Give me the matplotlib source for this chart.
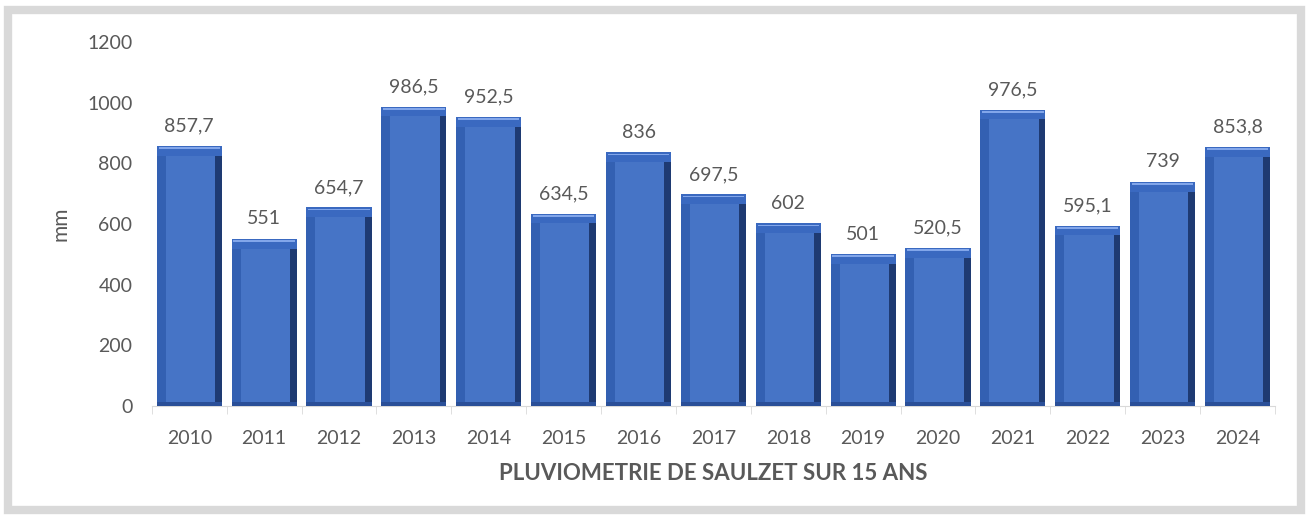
import numpy as np
import matplotlib.pyplot as plt
from matplotlib.patches import Rectangle

years = ["2010", "2011", "2012", "2013", "2014", "2015", "2016", "2017",
         "2018", "2019", "2020", "2021", "2022", "2023", "2024"]
rain = [857.7, 551, 654.7, 986.5, 952.5, 634.5, 836, 697.5,
        602, 501, 520.5, 976.5, 595.1, 739, 853.8]

plt.rcParams['font.family'] = ['Lato', 'DejaVu Sans']
grey = "#595959"

fig = plt.figure(figsize=(13.09, 5.18), dpi=100)
ax = fig.add_axes([0.116, 0.216, 0.858, 0.703])

x = np.arange(len(years))
vals = np.array(rain)
w = 0.87
lb, rb = 0.12, 0.09   # bevel widths left / right
tb, bb = 32, 14       # bevel heights top / bottom
# bevelled bar built from stacked bars
ax.bar(x, vals, width=w, color="#1e3a72", zorder=2)
ax.bar(x - w / 2, vals - 4, bottom=4, width=w - rb, align="edge", color="#3360b2", zorder=2)
ax.bar(x - w / 2, bb, width=w, align="edge", color="#2a4f98", zorder=3)
ax.bar(x, tb, bottom=vals - tb, width=w, color="#3a69c0", zorder=3)
ax.bar(x, 6, bottom=vals - 10, width=w - 0.05, color="#82a6ea", zorder=4)
ax.bar(x - w / 2 + lb, vals - tb - bb, bottom=bb, width=w - lb - rb, align="edge",
       color="#4674c6", zorder=4)

for xi, v in zip(x, vals):
    lab = ("%g" % v).replace(".", ",")
    ax.text(xi, v + 38, lab, ha="center", va="bottom", fontsize=14, color=grey)

ax.set_xlim(-0.5, len(years) - 0.5)
ax.set_ylim(0, 1200)
ax.set_yticks(range(0, 1201, 200))
ax.set_xticks(x)
ax.set_xticklabels(years)
ax.set_xticks(np.arange(-0.5, len(years), 1), minor=True)
ax.tick_params(axis="x", which="major", length=0, pad=17, labelsize=14, labelcolor=grey)
ax.tick_params(axis="x", which="minor", length=6, color="#d9d9d9")
ax.tick_params(axis="y", length=0, pad=14, labelsize=14, labelcolor=grey)
for s in ["top", "right", "left"]:
    ax.spines[s].set_visible(False)
ax.spines["bottom"].set_color("#d9d9d9")
ax.set_ylabel("mm", fontsize=15, color=grey, labelpad=12)
ax.set_xlabel("PLUVIOMETRIE DE SAULZET SUR 15 ANS", fontsize=16, fontweight="bold",
              color=grey, labelpad=12)

fig.patches.append(Rectangle((0.006, 0.015), 0.988, 0.965, transform=fig.transFigure,
                             fill=False, edgecolor="#d9d9d9", linewidth=6))

fig.savefig("out.png", dpi=100)
